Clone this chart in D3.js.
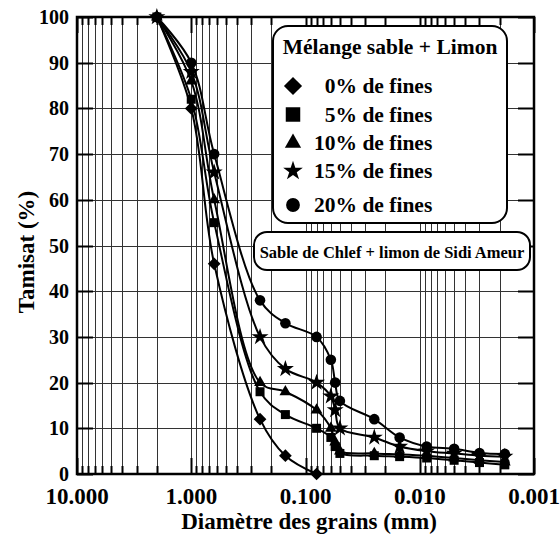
<!DOCTYPE html>
<html lang="fr">
<head>
    <meta charset="UTF-8">
    <title>Courbes granulométriques</title>
    <script src="https://d3js.org/d3.v7.min.js"></script>
    <style>
        body { margin: 0; background: #fff; }
        text { font-family: "Liberation Serif", "Times New Roman", serif; font-weight: bold; fill: #000; }
    </style>
</head>
<body>
    <svg id="chart" width="560" height="540"></svg>

    <script>
        // Diamètres (mm) : tamisage puis sédimentométrie
        const diameters = [2, 1, 0.63, 0.25, 0.15, 0.08, 0.06, 0.055, 0.05, 0.025, 0.015, 0.0087, 0.005, 0.003, 0.0018];

        // Tamisat (%) pour chaque mélange
        const fines0  = [100, 80, 46, 12, 4, 0];
        const fines5  = [100, 82, 55, 18, 13, 10, 8, 6, 4.5, 4, 3.8, 3.5, 3, 2.5, 2];
        const fines10 = [100, 86, 60, 20, 18, 14, 10, 7, 5, 4.5, 4.3, 4, 3.5, 3, 2.6];
        const fines15 = [100, 88, 66, 30, 23, 20, 17, 14, 10, 8, 6, 5, 4.5, 4, 3.8];
        const fines20 = [100, 90, 70, 38, 33, 30, 25, 20, 16, 12, 8, 6, 5.5, 4.6, 4.4];

        const seriesNames = ["  0% de fines", "  5% de fines", "10% de fines", "15% de fines", "20% de fines"];
        const seriesValues = [fines0, fines5, fines10, fines15, fines20];

        const xTickValues = [10, 1, 0.1, 0.01, 0.001];
        const xTickLabels = ["10.000", "1.000", "0.100", "0.010", "0.001"];
        const yTickValues = [0, 10, 20, 30, 40, 50, 60, 70, 80, 90, 100];

        const svg = d3.select("#chart");

        const plotLeft = 77, plotRight = 534, plotTop = 17, plotBottom = 474;

        const x = d3.scaleLog().domain([10, 0.001]).range([plotLeft, plotRight]);
        const y = d3.scaleLinear().domain([0, 100]).range([plotBottom, plotTop]);

        // marqueurs
        const symbols = [
            { type: d3.symbolSquare, size: 81, rotate: 45, legendSize: 165 },
            { type: d3.symbolSquare, size: 81, rotate: 0, legendSize: 210 },
            { type: d3.symbolTriangle, size: 60, rotate: 0, legendSize: 115 },
            { type: d3.symbolStar, size: 90, rotate: 0, legendSize: 120 },
            { type: d3.symbolCircle, size: 88, rotate: 0, legendSize: 150 }
        ];

        // grille verticale (log)
        const minorValues = [];
        for (let k = -3; k <= 0; k++) {
            for (let m = 1; m <= 9; m++) minorValues.push(m * Math.pow(10, k));
        }
        minorValues.push(10);

        const grid = svg.append("g").attr("stroke", "#333").attr("stroke-width", 1);
        grid.selectAll(".vgrid")
            .data(minorValues)
            .enter().append("line")
            .attr("x1", d => Math.round(x(d)) + 0.5)
            .attr("x2", d => Math.round(x(d)) + 0.5)
            .attr("y1", plotTop)
            .attr("y2", plotBottom);

        grid.selectAll(".hgrid")
            .data(yTickValues)
            .enter().append("line")
            .attr("x1", plotLeft)
            .attr("x2", plotRight)
            .attr("y1", d => Math.round(y(d)) + 0.5)
            .attr("y2", d => Math.round(y(d)) + 0.5);

        // graduations
        const ticks = svg.append("g").attr("stroke", "#000").attr("stroke-width", 2);
        const isMajor = d => xTickValues.some(v => Math.abs(Math.log10(v) - Math.log10(d)) < 1e-6);
        minorValues.forEach(d => {
            const len = isMajor(d) ? 16 : 8;
            const px = Math.round(x(d)) + 0.5;
            ticks.append("line").attr("x1", px).attr("x2", px).attr("y1", plotBottom).attr("y2", plotBottom - len);
            ticks.append("line").attr("x1", px).attr("x2", px).attr("y1", plotTop).attr("y2", plotTop + len);
        });
        yTickValues.forEach(d => {
            const py = Math.round(y(d)) + 0.5;
            ticks.append("line").attr("x1", plotLeft).attr("x2", plotLeft + 16).attr("y1", py).attr("y2", py);
            ticks.append("line").attr("x1", plotRight).attr("x2", plotRight - 16).attr("y1", py).attr("y2", py);
        });

        // courbes
        const line = d3.line()
            .x(d => x(d[0]))
            .y(d => y(d[1]))
            .curve(d3.curveCatmullRom.alpha(0.5));

        seriesValues.forEach((vals, i) => {
            const pts = vals.map((v, j) => [diameters[j], v]);
            svg.append("path")
                .datum(pts)
                .attr("fill", "none")
                .attr("stroke", "#000")
                .attr("stroke-width", 2)
                .attr("d", line);
        });

        seriesValues.forEach((vals, i) => {
            const s = symbols[i];
            const pts = vals.map((v, j) => [diameters[j], v]);
            svg.append("g").selectAll("path")
                .data(pts)
                .enter().append("path")
                .attr("d", d3.symbol().type(s.type).size(s.size))
                .attr("transform", d => `translate(${x(d[0])},${y(d[1])}) rotate(${s.rotate})`)
                .attr("fill", "#000");
        });

        // cadre
        svg.append("rect")
            .attr("x", plotLeft).attr("y", plotTop)
            .attr("width", plotRight - plotLeft).attr("height", plotBottom - plotTop)
            .attr("fill", "none").attr("stroke", "#000").attr("stroke-width", 2.5);

        // étiquettes des axes
        svg.append("g").selectAll("text")
            .data(yTickValues)
            .enter().append("text")
            .attr("x", 69)
            .attr("y", d => y(d))
            .attr("dy", "0.35em")
            .attr("text-anchor", "end")
            .style("font-size", "20px")
            .text(d => d);

        svg.append("g").selectAll("text")
            .data(xTickValues)
            .enter().append("text")
            .attr("x", d => x(d))
            .attr("y", 504)
            .attr("text-anchor", "middle")
            .style("font-size", "23px")
            .text((d, i) => xTickLabels[i]);

        svg.append("text")
            .attr("x", 309)
            .attr("y", 529)
            .attr("text-anchor", "middle")
            .style("font-size", "23px")
            .text("Diamètre des grains (mm)");

        svg.append("text")
            .attr("transform", "translate(34,252) rotate(-90)")
            .attr("text-anchor", "middle")
            .style("font-size", "23px")
            .text("Tamisat (%)");

        // légende
        const legend = svg.append("g");
        legend.append("rect")
            .attr("x", 273).attr("y", 26)
            .attr("width", 234).attr("height", 197)
            .attr("rx", 15).attr("ry", 15)
            .attr("fill", "#fff").attr("stroke", "#000").attr("stroke-width", 2);

        legend.append("text")
            .attr("x", 390).attr("y", 54)
            .attr("text-anchor", "middle")
            .style("font-size", "21.5px")
            .text("Mélange sable + Limon");

        const rowY = [93, 121.5, 150, 178, 212];
        seriesNames.forEach((name, i) => {
            const s = symbols[i];
            legend.append("path")
                .attr("d", d3.symbol().type(s.type).size(s.legendSize))
                .attr("transform", `translate(293,${rowY[i] - 7}) rotate(${s.rotate})`)
                .attr("fill", "#000");
            legend.append("text")
                .attr("x", 314).attr("y", rowY[i])
                .attr("xml:space", "preserve")
                .style("font-size", "21.5px")
                .style("white-space", "pre")
                .text(name);
        });

        const note = svg.append("g");
        note.append("rect")
            .attr("x", 254).attr("y", 232)
            .attr("width", 276).attr("height", 38)
            .attr("rx", 13).attr("ry", 13)
            .attr("fill", "#fff").attr("stroke", "#000").attr("stroke-width", 2);
        note.append("text")
            .attr("x", 392).attr("y", 258)
            .attr("text-anchor", "middle")
            .style("font-size", "16.5px")
            .text("Sable de Chlef + limon de Sidi Ameur");
    </script>
</body>
</html>
